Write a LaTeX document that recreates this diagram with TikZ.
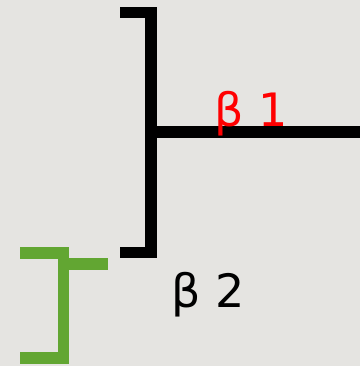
\documentclass[tikz,border=0pt]{standalone}
\usepackage{fontspec}
\setmainfont{DejaVu Sans}
\usetikzlibrary{positioning}
\definecolor{paper}{HTML}{E5E4E1}
\definecolor{clade}{HTML}{62A632}
\definecolor{lab}{HTML}{FF0000}

\begin{document}
\begin{tikzpicture}[x=1pt,y=-1pt,
  branch/.style={line width=11.5pt,line join=miter,line cap=butt},
  tag/.style={font=\fontsize{46}{50}\selectfont,anchor=base}]
  \fill[paper] (0,0) rectangle (360,366);
  \useasboundingbox (0,0) rectangle (360,366);

  % upper bracket
  \coordinate (t1) at (120,12.5);
  \coordinate (t2) at (151,12.5);
  \coordinate (t3) at (151,252.5);
  \coordinate (t4) at (120,252.5);
  \coordinate (root) at (151,132);
  \coordinate (out) at (360,132);
  \draw[branch] (t1) -- (t2) -- (t3) -- (t4);
  \draw[branch] (root) -- (out);

  % lower bracket
  \coordinate (g1) at (20,253);
  \coordinate (g2) at (63.5,253);
  \coordinate (g3) at (63.5,358);
  \coordinate (g4) at (20,358);
  \coordinate (gm) at (63.5,264);
  \coordinate (gout) at (108,264);
  \draw[branch,clade] (g1) -- (g2) -- (g3) -- (g4);
  \draw[branch,clade] (gm) -- (gout);

  % labels
  \node[tag,lab] (b1) at (251,127) {β 1};
  \node[tag] (b2) at (208,307) {β 2};
\end{tikzpicture}
\end{document}
